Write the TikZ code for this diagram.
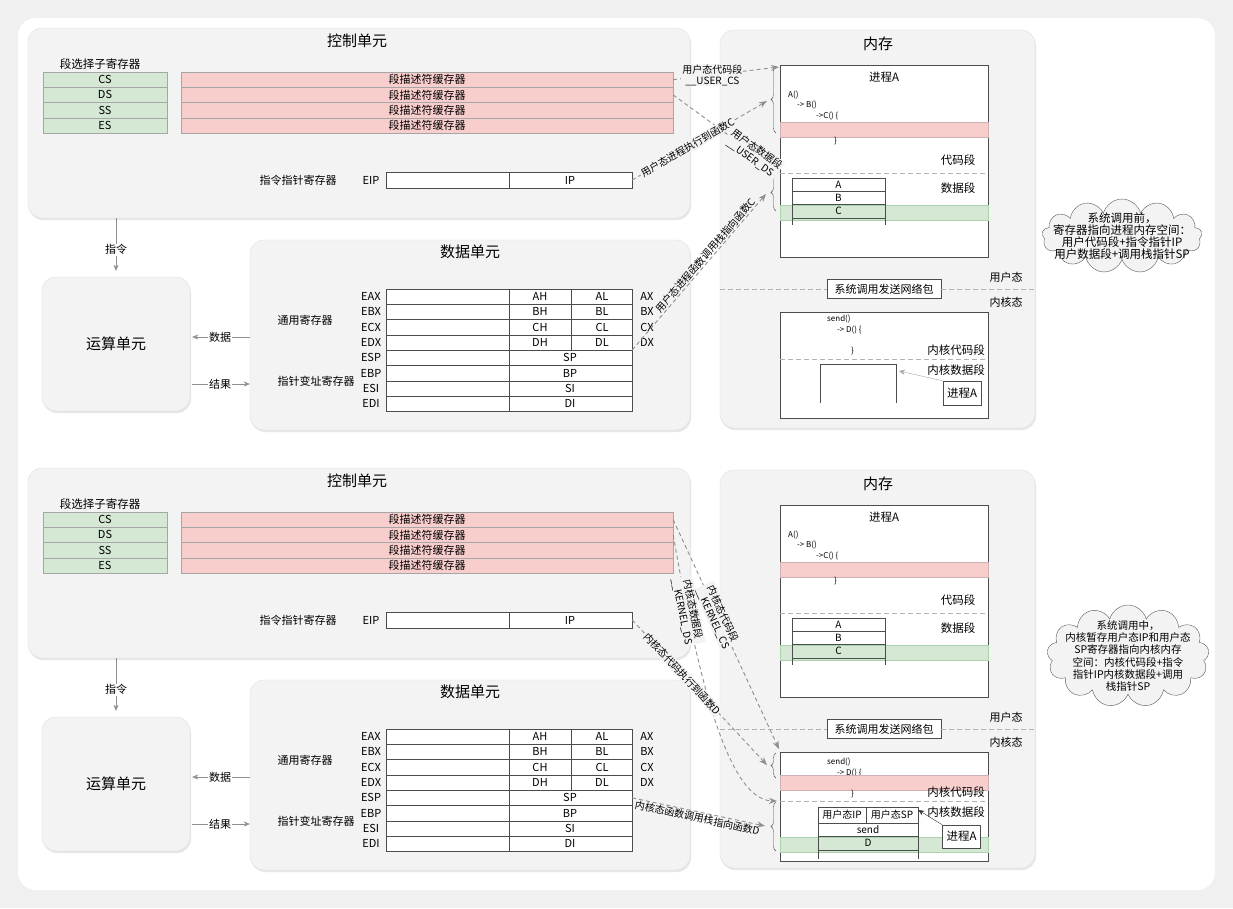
\documentclass[tikz,border=0pt]{standalone}
\usepackage{fontspec}
\setmainfont{Noto Sans CJK SC}
\usetikzlibrary{arrows.meta,calc,shadows,shapes.symbols,decorations.pathreplacing}

\definecolor{panelfill}{HTML}{F3F3F3}
\definecolor{descpink}{HTML}{F8CECC}
\definecolor{selgreen}{HTML}{D5E8D4}
\definecolor{wiregray}{HTML}{8F8F8F}

\tikzset{
  panel/.style={draw=gray!25, fill=panelfill, rounded corners=14pt,
    drop shadow={shadow xshift=1pt, shadow yshift=-2pt, opacity=0.3, fill=gray!60}},
  unittitle/.style={font=\fontsize{15}{17}\selectfont},
  lbl/.style={font=\fontsize{11}{12}\selectfont, inner sep=1pt},
  selrow/.style={draw=gray!70, fill=selgreen, minimum width=124, minimum height=15.3, inner sep=0pt, font=\fontsize{11}{12}\selectfont},
  descrow/.style={draw=gray!70, fill=descpink, minimum width=492, minimum height=15.3, inner sep=0pt, font=\fontsize{11}{12}\selectfont},
  regrow/.style={draw=gray!60!black, fill=white, minimum width=246, minimum height=15.3, inner sep=0pt},
  membox/.style={draw=gray!60!black, fill=white, minimum width=208, inner sep=0pt},
  stackrow/.style={draw=gray!60!black, minimum width=93, minimum height=13.3, inner sep=0pt, font=\fontsize{10}{10}\selectfont},
  codeline/.style={font=\fontsize{8}{9}\selectfont, inner sep=0pt, anchor=west},
  memlbl/.style={font=\fontsize{11.5}{13}\selectfont, inner sep=1pt},
  flow/.style={draw=wiregray, -{Stealth[length=6pt,width=5pt]}},
  seglink/.style={draw=wiregray, line width=0.9pt, dash pattern=on 4pt off 3pt, -{Stealth[length=8pt,width=6pt]}},
  linklbl/.style={font=\fontsize{10}{11}\selectfont, align=center, inner sep=1pt, fill=panelfill},
  segline/.style={draw=gray!60, line width=0.8pt, dash pattern=on 5pt off 3pt},
  segbrace/.style={draw=gray!60!black, decorate, decoration={brace, amplitude=5pt}},
  pinkband/.style={draw=red!20!gray!50, fill=descpink},
  greenband/.style={draw=green!30!gray!50, fill=selgreen},
  cloudbox/.style={cloud, cloud puffs=13, aspect=2.3, draw=gray!70!black, fill=panelfill, inner sep=0pt},
  cloudtext/.style={font=\fontsize{10.5}{12.2}\selectfont, align=center, inner sep=0pt}
}

\begin{document}
\begin{tikzpicture}[x=1pt, y=-1pt]
  \useasboundingbox (0,0) rectangle (1233,908);
  \fill[gray!12] (0,0) rectangle (1233,908);
  \fill[white, rounded corners=18pt] (18,18) rectangle (1215,890);

  \foreach \p/\dy in {t/0, b/440} {
    \begin{scope}[shift={(0,\dy)}]
      \node[panel, minimum width=662, minimum height=190] (\p ctrl) at (359,123) {};
      \node[unittitle] at (357,41) {控制单元};
      \node[lbl, font=\fontsize{11.5}{12}\selectfont] at (100,64) {段选择子寄存器};
      \foreach \i/\s in {1/CS, 2/DS, 3/SS, 4/ES} {
        \node[selrow] (\p sel\i) at (105,64.35+15.3*\i) {\s};
        \node[descrow] (\p desc\i) at (427,64.35+15.3*\i) {段描述符缓存器};
      }
      \node[lbl] at (298,180) {指令指针寄存器};
      \node[lbl] at (371,180) {EIP};
      \node[regrow, minimum height=16] (\p eip) at (509,180) {};
      \draw[gray!60!black] (\p eip.north) -- (\p eip.south);
      \node[lbl] at (570,180) {IP};

      \node[panel, minimum width=148, minimum height=134, font=\fontsize{15}{17}\selectfont] (\p alu) at (116,344) {运算单元};
      \node[panel, minimum width=440, minimum height=190] (\p data) at (470,335) {};
      \node[unittitle] at (470,252) {数据单元};
      \node[lbl] at (305,320) {通用寄存器};
      \node[lbl] at (316,381) {指针变址寄存器};
      \foreach \i/\l/\h/\lo/\r in {1/EAX/AH/AL/AX, 2/EBX/BH/BL/BX, 3/ECX/CH/CL/CX, 4/EDX/DH/DL/DX} {
        \node[regrow] (\p reg\i) at (509,281.35+15.3*\i) {};
        \draw[gray!60!black] (\p reg\i.north) -- (\p reg\i.south);
        \draw[gray!60!black] ([xshift=62pt]\p reg\i.north) -- ([xshift=62pt]\p reg\i.south);
        \node[lbl] at (371,281.35+15.3*\i) {\l};
        \node[lbl] at (540,281.35+15.3*\i) {\h};
        \node[lbl] at (602,281.35+15.3*\i) {\lo};
        \node[lbl] at (647,281.35+15.3*\i) {\r};
      }
      \foreach \i/\l/\s in {5/ESP/SP, 6/EBP/BP, 7/ESI/SI, 8/EDI/DI} {
        \node[regrow] (\p reg\i) at (509,281.35+15.3*\i) {};
        \draw[gray!60!black] (\p reg\i.north) -- (\p reg\i.south);
        \node[lbl] at (371,281.35+15.3*\i) {\l};
        \node[lbl] at (570,281.35+15.3*\i) {\s};
      }

      \draw[flow] (\p alu.north |- \p ctrl.south) -- node[lbl, fill=white, pos=0.6] {指令} ([yshift=6pt]\p alu.north);
      \draw[flow, shorten >=2pt] ($(\p data.west |- \p alu.east)+(0,-7)$) -- node[lbl, fill=white] {数据} ($(\p alu.east)+(0,-7)$);
      \draw[flow, shorten <=2pt] ($(\p alu.east)+(0,40)$) -- node[lbl, fill=white] {结果} ($(\p data.west |- \p alu.east)+(0,40)$);

      \node[panel, minimum width=315, minimum height=398] (\p mem) at (877.5,229) {};
      \node[unittitle] at (878,44) {内存};
      \node[membox, minimum height=192] (\p proc) at (884,161) {};
      \node[memlbl] at (884,77) {进程A};
      \node[codeline] at (788,95) {A()};
      \node[codeline] at (797,105) {-> B()};
      \node[codeline] at (816,116) {->C() \{};
      \draw[pinkband] (780,122) rectangle (988,137);
      \node[codeline] at (834,141) {\}};
      \draw[segline] (780,173) -- (988,173);
      \node[memlbl] at (958,160) {代码段};
      \node[memlbl] at (958,188) {数据段};
      \draw[greenband] (780,205) rectangle (988,220);
      \foreach \i/\s in {1/A, 2/B, 3/C} {
        \node[stackrow] (\p stk\i) at (838.5,171.35+13.3*\i) {\s};
      }
      \draw[gray!60!black] (\p stk3.south west) -- ++(0,7) (\p stk3.south east) -- ++(0,7);

      \node[draw=gray!60!black, fill=white, minimum width=114, minimum height=19, inner sep=0pt, font=\fontsize{11}{12}\selectfont] (\p sys) at (884,289) {系统调用发送网络包};
      \draw[segline] (\p mem.west |- \p sys.center) -- (\p sys.west) (\p sys.east) -- (\p mem.east |- \p sys.center);
      \node[lbl] at (1006,277) {用户态};
      \node[lbl] at (1006,302) {内核态};
    \end{scope}
  }

  \node[membox, minimum height=106] (tkern) at (884,365) {};
  \node[codeline] at (827,319) {send()};
  \node[codeline] at (837,330) {-> D() \{};
  \node[codeline] at (851,351) {\}};
  \draw[segline] (780,359) -- (988,359);
  \node[memlbl, anchor=east] at (986,350) {内核代码段};
  \node[memlbl, anchor=east] at (986,370) {内核数据段};
  \draw[gray!60!black] (820,403) -- (820,364) -- (896,364) -- (896,403);
  \coordinate (tkstack) at (899,371);
  \node[draw=gray!60!black, fill=white, memlbl, minimum width=38, minimum height=24, inner sep=0pt] (tkproc) at (962,393) {进程A};
  \draw[flow, draw=gray!70] (tkproc.north west) -- (tkstack);

  \node[membox, minimum height=109] (bkern) at (884,807) {};
  \node[codeline] at (827,762) {send()};
  \node[codeline] at (837,773) {-> D() \{};
  \draw[pinkband] (780,775) rectangle (988,790);
  \node[codeline] at (851,794) {\}};
  \draw[segline] (780,801) -- (988,801);
  \node[memlbl, anchor=east] at (986,792) {内核代码段};
  \node[memlbl, anchor=east] at (986,812) {内核数据段};
  \draw[greenband] (780,837) rectangle (988,852);
  \node[stackrow, minimum width=48, minimum height=16, font=\fontsize{10}{11}\selectfont] (bkip) at (842,815) {用户态IP};
  \node[stackrow, minimum width=52, minimum height=16, font=\fontsize{10}{11}\selectfont] (bksp) at (892,815) {用户态SP};
  \node[stackrow, minimum width=100, minimum height=13.5] (bksend) at (868,829.75) {send};
  \node[stackrow, minimum width=100, minimum height=13.5] (bkd) at (868,843.25) {D};
  \draw[gray!60!black] (bkd.south west) -- ++(0,9) (bkd.south east) -- ++(0,9);
  \node[draw=gray!60!black, fill=white, memlbl, minimum width=38, minimum height=23, inner sep=0pt] (bkproc) at (961.5,836.5) {进程A};
  \draw[flow, draw=black!80] (bkproc.north west) -- ([yshift=5pt]bksp.east);

  \draw[segbrace] (776,133) -- (776,66);
  \draw[segbrace] (776,211) -- (776,174);
  \draw[segbrace] (776,778) -- (776,753);
  \draw[segbrace] (776,851) -- (776,802);
  \coordinate (tcs) at (779,67);
  \coordinate (tcbrace) at (767,101);
  \coordinate (tds) at (779,172);
  \coordinate (tdbrace) at (766,194);
  \coordinate (bkcs) at (779,749);
  \coordinate (bcbrace) at (767,765);
  \coordinate (bkds) at (777,801);
  \coordinate (bdbrace) at (765,826);

  \draw[seglink] (tdesc1.east) -- node[linklbl, pos=0.37] {用户态代码段\\\_\_USER\_CS} (tcs);
  \draw[seglink] (tdesc2.east) -- node[linklbl, sloped, pos=0.76] {用户态数据段\\\_\_USER\_DS} (tds);
  \draw[seglink] (teip.east) -- node[linklbl, sloped, pos=0.41] {用户态进程执行到函数C} (tcbrace);
  \draw[seglink] (treg5.north east) -- node[linklbl, sloped, pos=0.58, above, fill=none] {用户态进程函数调用栈指向函数C} (tdbrace);

  \draw[seglink] (bdesc1.east) -- node[linklbl, sloped, pos=0.42] {内核态代码段\\\_\_KERNEL\_CS} (bkcs);
  \draw[seglink] (bdesc2.east) .. controls (695,660) and (725,800) .. node[linklbl, sloped, pos=0.2] {内核态数据段\\\_\_KERNEL\_DS} (bkds);
  \draw[seglink] (beip.east) -- node[linklbl, sloped, pos=0.37] {内核态代码执行到函数D} (bcbrace);
  \draw[seglink] (breg5.east) -- node[linklbl, sloped, pos=0.5, below, fill=none] {内核态函数调用栈指向函数D} (bdbrace);

  \node[cloudbox, minimum width=160, minimum height=74] (tcloud) at (1122,236) {};
  \node[cloudtext, font=\fontsize{11.5}{12.2}\selectfont] at (tcloud.center) {系统调用前，\\寄存器指向进程内存空间：\\用户代码段+指令指针IP\\用户数据段+调用栈指针SP};
  \node[cloudbox, minimum width=162, minimum height=102] (bcloud) at (1128,656) {};
  \node[cloudtext] at (bcloud.center) {系统调用中，\\内核暂存用户态IP和用户态\\SP寄存器指向内核内存\\空间：内核代码段+指令\\指针IP内核数据段+调用\\栈指针SP};
\end{tikzpicture}
\end{document}
